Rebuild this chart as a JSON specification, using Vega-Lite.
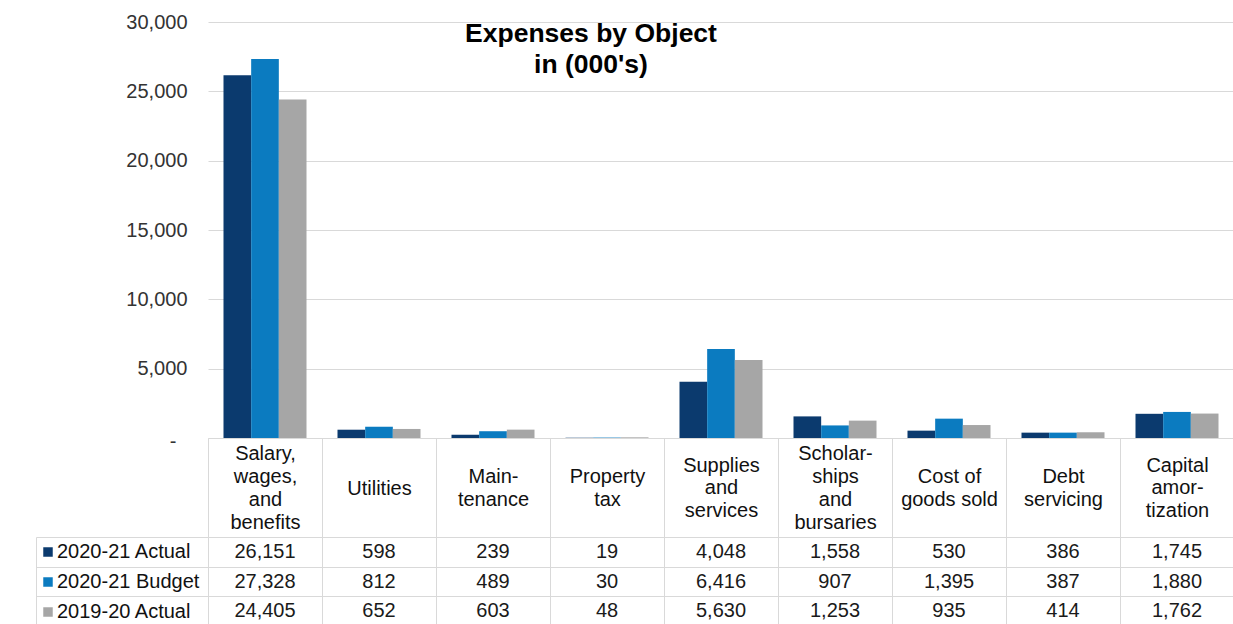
{
  "$schema": "https://vega.github.io/schema/vega-lite/v6.json",
  "padding": {"left": 35, "top": 12, "right": 0, "bottom": 0},
  "background": "white",
  "bounds": "flush",
  "spacing": 99,
  "config": {
    "font": "Liberation Sans",
    "view": {"stroke": null},
    "title": {"font": "Liberation Sans", "fontSize": 26.5, "fontWeight": "bold", "color": "#000000", "lineHeight": 31}
  },
  "datasets": {
    "expenses": [
      {"category": "Salary,\nwages,\nand\nbenefits", "series": "2020-21 Actual", "value": 26151},
      {"category": "Salary,\nwages,\nand\nbenefits", "series": "2020-21 Budget", "value": 27328},
      {"category": "Salary,\nwages,\nand\nbenefits", "series": "2019-20 Actual", "value": 24405},
      {"category": "Utilities", "series": "2020-21 Actual", "value": 598},
      {"category": "Utilities", "series": "2020-21 Budget", "value": 812},
      {"category": "Utilities", "series": "2019-20 Actual", "value": 652},
      {"category": "Main-\ntenance", "series": "2020-21 Actual", "value": 239},
      {"category": "Main-\ntenance", "series": "2020-21 Budget", "value": 489},
      {"category": "Main-\ntenance", "series": "2019-20 Actual", "value": 603},
      {"category": "Property\ntax", "series": "2020-21 Actual", "value": 19},
      {"category": "Property\ntax", "series": "2020-21 Budget", "value": 30},
      {"category": "Property\ntax", "series": "2019-20 Actual", "value": 48},
      {"category": "Supplies\nand\nservices", "series": "2020-21 Actual", "value": 4048},
      {"category": "Supplies\nand\nservices", "series": "2020-21 Budget", "value": 6416},
      {"category": "Supplies\nand\nservices", "series": "2019-20 Actual", "value": 5630},
      {"category": "Scholar-\nships\nand\nbursaries", "series": "2020-21 Actual", "value": 1558},
      {"category": "Scholar-\nships\nand\nbursaries", "series": "2020-21 Budget", "value": 907},
      {"category": "Scholar-\nships\nand\nbursaries", "series": "2019-20 Actual", "value": 1253},
      {"category": "Cost of\ngoods sold", "series": "2020-21 Actual", "value": 530},
      {"category": "Cost of\ngoods sold", "series": "2020-21 Budget", "value": 1395},
      {"category": "Cost of\ngoods sold", "series": "2019-20 Actual", "value": 935},
      {"category": "Debt\nservicing", "series": "2020-21 Actual", "value": 386},
      {"category": "Debt\nservicing", "series": "2020-21 Budget", "value": 387},
      {"category": "Debt\nservicing", "series": "2019-20 Actual", "value": 414},
      {"category": "Capital\namor-\ntization", "series": "2020-21 Actual", "value": 1745},
      {"category": "Capital\namor-\ntization", "series": "2020-21 Budget", "value": 1880},
      {"category": "Capital\namor-\ntization", "series": "2019-20 Actual", "value": 1762}
    ]
  },
  "vconcat": [
    {
      "width": 1026,
      "height": 416,
      "data": {"name": "expenses"},
      "title": {"text": ["Expenses by Object", "in (000's)"], "anchor": "middle", "frame": "group", "dx": -130, "offset": -66},
      "mark": {"type": "bar"},
      "encoding": {
        "x": {
          "field": "category", "type": "nominal", "sort": null,
          "scale": {"paddingInner": 0, "paddingOuter": 0},
          "axis": {
            "title": null, "labelAngle": 0, "labelExpr": "split(datum.label, '\\n')",
            "labelFontSize": 20, "labelColor": "#111111", "labelLineHeight": 22.7,
            "labelBaseline": "middle",
            "labelPadding": {"expr": "-49 - (length(split(datum.value, '\\n')) - 1) * 11.35"},
            "labelLimit": 0,
            "tickBand": "extent", "tickSize": 99, "tickColor": "#d9d9d9",
            "domainColor": "#d9d9d9", "grid": false
          }
        },
        "xOffset": {
          "field": "series", "type": "nominal", "sort": ["2020-21 Actual", "2020-21 Budget", "2019-20 Actual"],
          "scale": {"paddingInner": 0, "paddingOuter": 0.56}
        },
        "y": {
          "field": "value", "type": "quantitative",
          "scale": {"domain": [0, 30000], "nice": false},
          "axis": {
            "title": null, "values": [0, 5000, 10000, 15000, 20000, 25000, 30000],
            "labelExpr": "datum.value === 0 ? '-' : format(datum.value, ',')",
            "labelFontSize": 20, "labelColor": "#333333",
            "labelPadding": {"condition": {"test": "datum.value === 0", "value": 32}, "value": 21},
            "labelOffset": {"condition": {"test": "datum.value === 0", "value": 3}, "value": 0},
            "ticks": false, "domain": false, "grid": true, "gridColor": "#d9d9d9"
          }
        },
        "color": {
          "field": "series", "type": "nominal",
          "scale": {"domain": ["2020-21 Actual", "2020-21 Budget", "2019-20 Actual"], "range": ["#0b3a6e", "#0b7bc0", "#a6a6a6"]},
          "legend": {
            "title": null, "orient": "none", "legendX": -170, "legendY": 520,
            "symbolType": "square", "symbolSize": 90, "symbolStrokeWidth": 0,
            "labelFontSize": 20, "labelColor": "#111111", "labelOffset": -1, "rowPadding": 10
          }
        }
      }
    },
    {
      "width": 1026,
      "height": 89,
      "data": {"name": "expenses"},
      "mark": {"type": "text", "fontSize": 20, "color": "#1a1a1a", "baseline": "middle"},
      "encoding": {
        "x": {
          "field": "category", "type": "nominal", "sort": null,
          "scale": {"paddingInner": 0, "paddingOuter": 0},
          "axis": {"title": null, "labels": false, "ticks": false, "domain": false, "grid": true, "tickBand": "extent", "gridColor": "#d9d9d9"}
        },
        "y": {
          "field": "series", "type": "nominal", "sort": ["2020-21 Actual", "2020-21 Budget", "2019-20 Actual"],
          "scale": {"paddingInner": 0, "paddingOuter": 0},
          "axis": {"title": null, "labels": false, "ticks": true, "tickBand": "extent", "tickSize": -172, "offset": 172, "tickColor": "#d9d9d9", "domain": true, "domainColor": "#d9d9d9", "grid": true, "gridColor": "#d9d9d9"}
        },
        "text": {"field": "value", "type": "quantitative", "format": ","}
      }
    }
  ]
}
